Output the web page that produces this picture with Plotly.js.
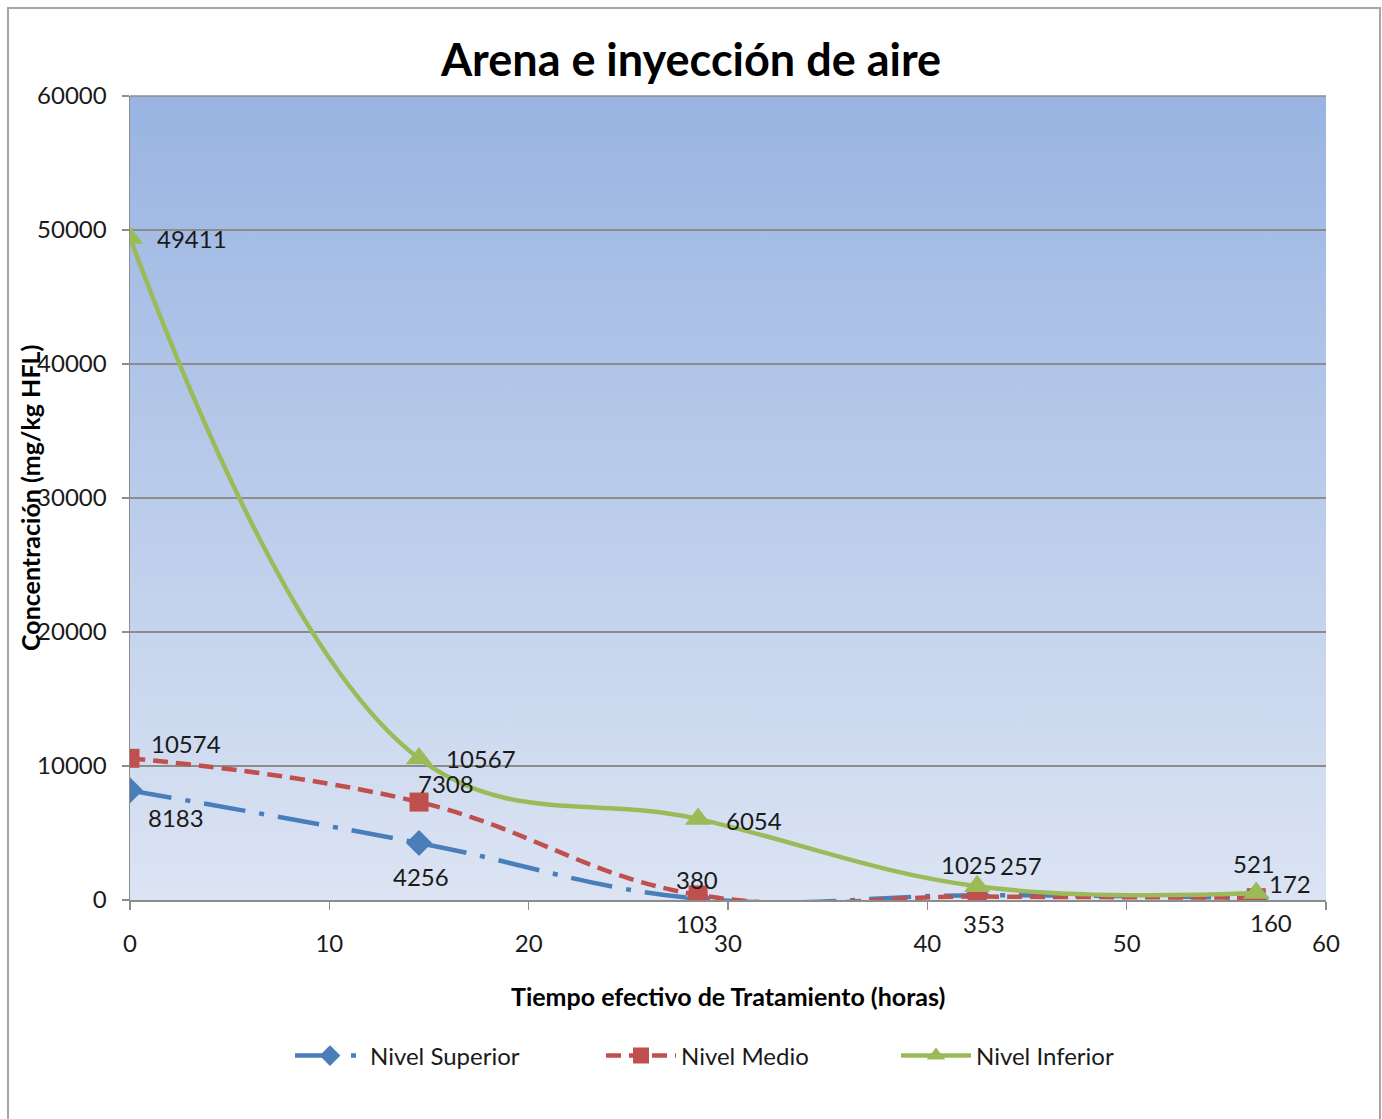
<!DOCTYPE html>
<html>
<head>
<meta charset="utf-8">
<script src="https://cdn.plot.ly/plotly-3.0.1.min.js"></script>
<style>
  html, body { margin: 0; padding: 0; background: #ffffff; }
  #wrap { position: relative; width: 1382px; height: 1119px; overflow: hidden; }
  #chart { position: absolute; left: 0; top: 0; width: 1382px; height: 1119px; }
  #frame { position: absolute; left: 7px; top: 7px; width: 1374px; height: 1130px;
           border: 2px solid #a6a6a6; pointer-events: none; box-sizing: border-box; }
</style>
</head>
<body>
<div id="wrap">
  <div id="chart"></div>
  <div id="frame"></div>
</div>
<script>
// ---- data ----
const tiempo = [0, 14.5, 28.5, 42.5, 56.5];
const nivelSuperior = [8183, 4256, 103, 353, 160];
const nivelMedio = [10574, 7308, 380, 257, 172];
const nivelInferior = [49411, 10567, 6054, 1025, 521];
const seriesNames = ['Nivel Superior', 'Nivel Medio', 'Nivel Inferior'];
const xTicks = [0, 10, 20, 30, 40, 50, 60];
const yTicks = [0, 10000, 20000, 30000, 40000, 50000, 60000];

// ---- label placement (style only) ----
const lblSuperior = [
  { xa: 'left', xs: 16, ys: -27 }, { xa: 'center', xs: 2, ys: -34 }, { xa: 'center', xs: -1, ys: -25 },
  { xa: 'center', xs: 7, ys: -28 }, { xa: 'center', xs: 15, ys: -25 }
];
const lblMedio = [
  { xa: 'left', xs: 19, ys: 15 }, { xa: 'left', xs: -3, ys: 19 }, { xa: 'center', xs: -1, ys: 15 },
  { xa: 'left', xs: 21, ys: 31 }, { xa: 'left', xs: 11, ys: 14 }
];
const lblInferior = [
  { xa: 'left', xs: 25, ys: -1 }, { xa: 'left', xs: 25, ys: 0 }, { xa: 'left', xs: 26, ys: -2 },
  { xa: 'center', xs: -8, ys: 22 }, { xa: 'center', xs: -2, ys: 30 }
];

const FONT = 'Lato, "Open Sans", sans-serif';
const labelFont = { family: FONT, size: 24, color: '#1a1a1a' };
const baseFont = { family: FONT, size: 24, color: '#1a1a1a' };

const colors = ['#4a7ebb', '#c0504d', '#9bbb59'];

const traces = [
  {
    name: seriesNames[0], x: tiempo, y: nivelSuperior, mode: 'lines+markers', legend: 'legend',
    line: { color: colors[0], width: 4.5, dash: '42px,14px,5px,14px', shape: 'spline', smoothing: 1.2 },
    marker: { symbol: 'diamond', size: 20, color: colors[0] }
  },
  {
    name: seriesNames[1], x: tiempo, y: nivelMedio, mode: 'lines+markers', legend: 'legend2',
    line: { color: colors[1], width: 4.5, dash: '15px,8px', shape: 'spline', smoothing: 1.2 },
    marker: { symbol: 'square', size: 19, color: colors[1] }
  },
  {
    name: seriesNames[2], x: tiempo, y: nivelInferior, mode: 'lines+markers', legend: 'legend3',
    line: { color: colors[2], width: 4.5, shape: 'spline', smoothing: 1.1 },
    marker: { symbol: 'triangle-up', size: 23, color: colors[2] }
  }
];

function labelAnnotations(xs, ys, place) {
  return xs.map((xv, i) => ({
    x: xv, y: ys[i], xref: 'x', yref: 'y', text: String(ys[i]),
    showarrow: false, xanchor: place[i].xa, yanchor: 'middle',
    xshift: place[i].xs, yshift: place[i].ys, font: labelFont
  }));
}

const svgGrad = "<svg xmlns='http://www.w3.org/2000/svg' width='100' height='100' preserveAspectRatio='none' viewBox='0 0 100 100'>" +
  "<defs><linearGradient id='g' x1='0' y1='0' x2='0' y2='1'>" +
  "<stop offset='0' stop-color='#99b4e2'/><stop offset='1' stop-color='#dce4f3'/>" +
  "</linearGradient></defs><rect width='100' height='100' fill='url(#g)'/></svg>";
const bgUri = 'data:image/svg+xml;charset=utf-8,' + encodeURIComponent(svgGrad);

function legendAt(xPaper) {
  return {
    orientation: 'h', x: xPaper, xanchor: 'left', y: -0.194, yanchor: 'middle',
    font: baseFont, bgcolor: 'rgba(0,0,0,0)', itemwidth: 70
  };
}

const layout = {
  width: 1382, height: 1119,
  margin: { l: 130, r: 56, t: 96, b: 219 },
  paper_bgcolor: 'rgba(0,0,0,0)',
  plot_bgcolor: 'rgba(0,0,0,0)',
  font: baseFont,
  title: {
    text: '<b>Arena e inyección de aire</b>',
    x: 0.5, xref: 'container', xanchor: 'center',
    y: 1 - 60 / 1119, yref: 'container', yanchor: 'middle',
    font: { family: FONT, size: 45, color: '#000000' }
  },
  xaxis: {
    range: [0, 60], tickvals: xTicks, ticktext: xTicks.map(String),
    showgrid: false, zeroline: false,
    showline: true, linecolor: '#8c8c8c', linewidth: 1.5,
    ticks: 'outside', ticklen: 8, tickcolor: '#8c8c8c', tickwidth: 1.5,
    ticklabelstandoff: 14,
    tickfont: baseFont
  },
  yaxis: {
    range: [0, 60000], tickvals: yTicks, ticktext: yTicks.map(String),
    showgrid: true, gridcolor: '#8c8c8c', gridwidth: 1.2, zeroline: false,
    showline: true, linecolor: '#8c8c8c', linewidth: 1.5,
    ticks: 'outside', ticklen: 7, tickcolor: '#8c8c8c', tickwidth: 1.5,
    ticklabelstandoff: 10,
    tickfont: baseFont
  },
  showlegend: true,
  legend: legendAt((290 - 130) / 1196),
  legend2: legendAt((601 - 130) / 1196),
  legend3: legendAt((896 - 130) / 1196),
  images: [{
    source: bgUri, xref: 'paper', yref: 'paper', x: 0, y: 1,
    sizex: 1, sizey: 1, xanchor: 'left', yanchor: 'top',
    sizing: 'stretch', layer: 'below'
  }],
  shapes: [{
    type: 'line', xref: 'paper', yref: 'paper', x0: 0, x1: 1, y0: 1, y1: 1,
    line: { color: '#8c8c8c', width: 1.5 }
  }],
  annotations: [
    {
      text: '<b>Tiempo efectivo de Tratamiento (horas)</b>',
      xref: 'paper', yref: 'paper', x: 0.5, y: -(996 - 900) / 804,
      xanchor: 'center', yanchor: 'middle', showarrow: false,
      font: { family: FONT, size: 25, color: '#000000' }
    },
    {
      text: '<b>Concentración (mg/kg HFL)</b>',
      xref: 'paper', yref: 'paper', x: (30 - 130) / 1196, y: 0.5,
      xanchor: 'center', yanchor: 'middle', textangle: -90, showarrow: false,
      font: { family: FONT, size: 25, color: '#000000' }
    }
  ].concat(
    labelAnnotations(tiempo, nivelSuperior, lblSuperior),
    labelAnnotations(tiempo, nivelMedio, lblMedio),
    labelAnnotations(tiempo, nivelInferior, lblInferior)
  )
};

Plotly.newPlot('chart', traces, layout, { displayModeBar: false, staticPlot: true });
</script>
</body>
</html>
